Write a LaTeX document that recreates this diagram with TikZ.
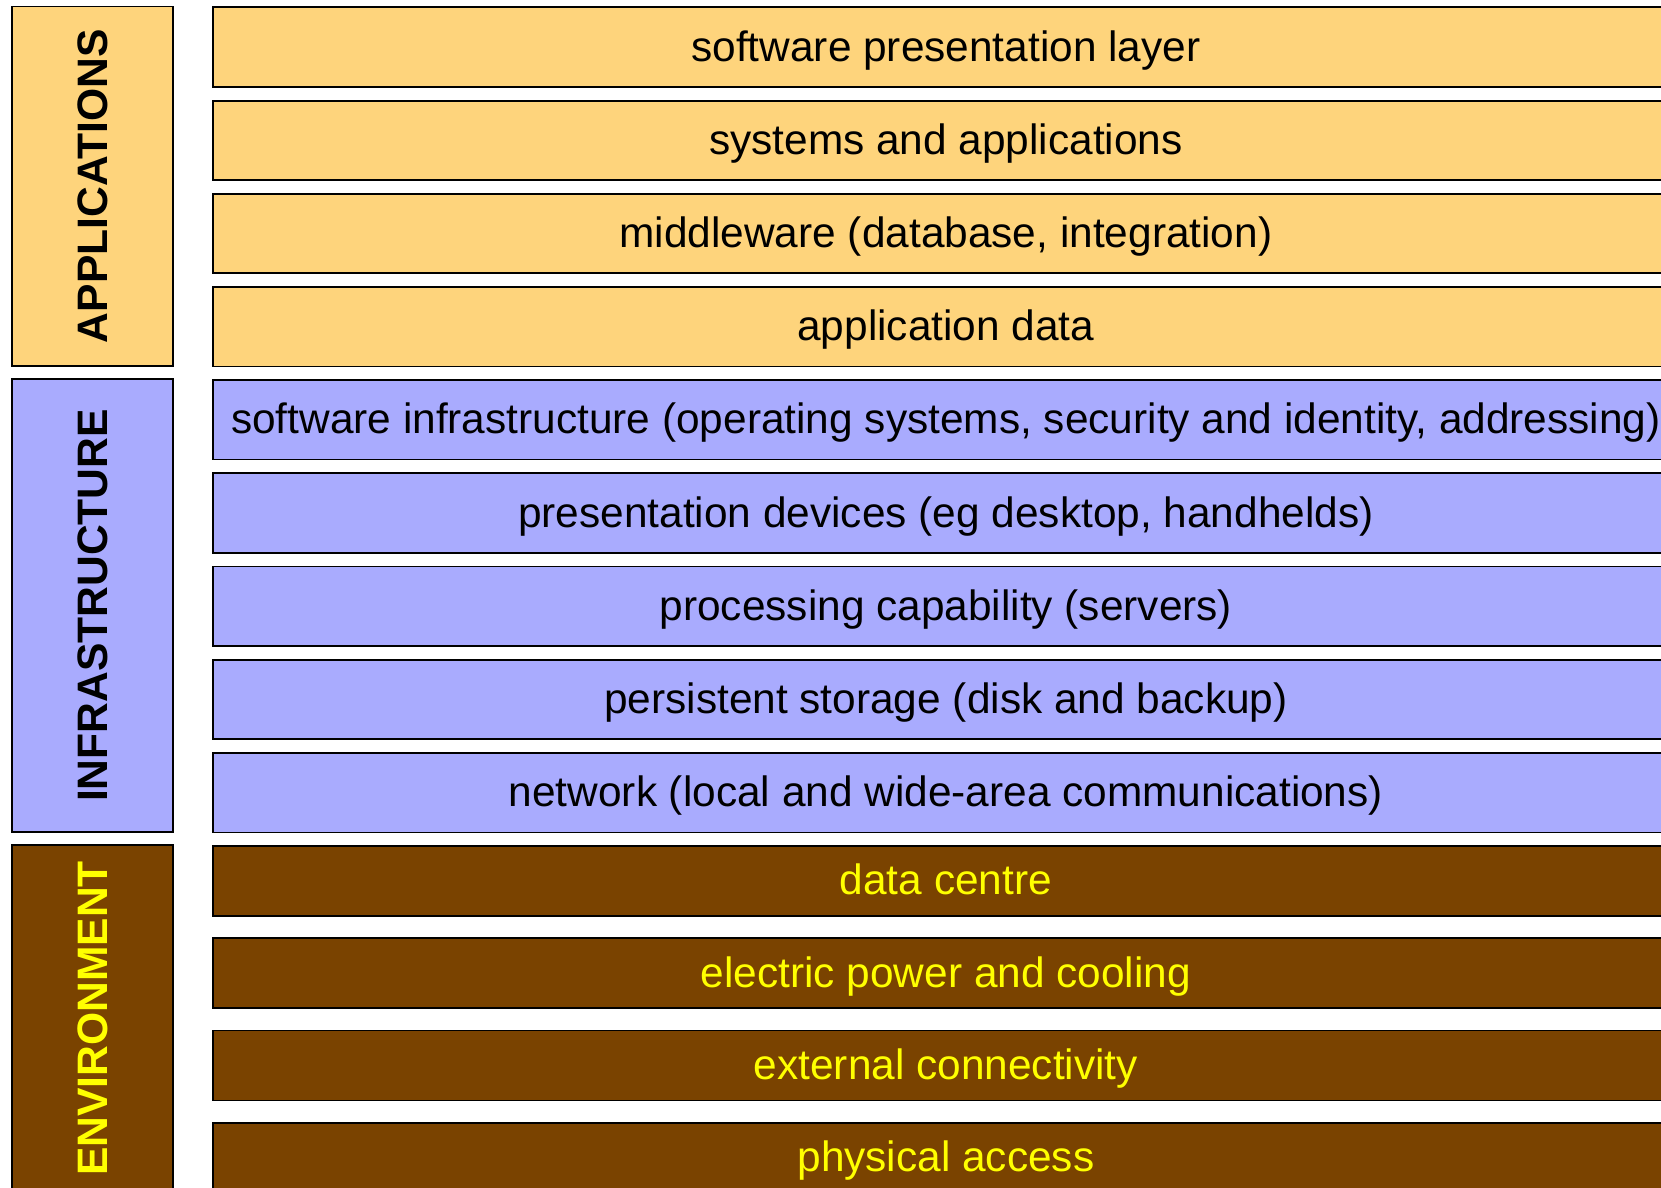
\documentclass[tikz,border=0pt]{standalone}
\usepackage{fontspec}
\setmainfont{Liberation Sans}
\definecolor{appfill}{RGB}{254,212,124}
\definecolor{infrafill}{RGB}{169,171,254}
\definecolor{envfill}{RGB}{122,67,0}
\definecolor{envtext}{RGB}{255,255,0}
\begin{document}
\begin{tikzpicture}[x=1pt,y=-1pt,
  layer/.style={draw=black, line width=1.8pt, anchor=north west, inner sep=0pt,
    minimum width=1466pt, text height=30pt, text depth=2pt,
    font=\fontsize{42.4}{50}\selectfont},
  applayer/.style={layer, fill=appfill, minimum height=79.5pt},
  infralayer/.style={layer, fill=infrafill, minimum height=79.5pt},
  envlayer/.style={layer, fill=envfill, text=envtext, minimum height=70pt},
  groupbox/.style={line width=1.8pt},
  grouplabel/.style={rotate=90, font=\fontsize{42.6}{50}\selectfont\bfseries}]
\useasboundingbox (0,0) rectangle (1661,1187);

% group columns on the left
\draw[groupbox, fill=appfill] (12,6.4) rectangle (173,366);
\draw[groupbox, fill=infrafill] (12,379) rectangle (173,832);
\draw[groupbox, fill=envfill] (12,845) rectangle (173,1192);
\node[grouplabel] (gapp) at (92.5,186) {APPLICATIONS};
\node[grouplabel] (ginfra) at (92.5,605.5) {INFRASTRUCTURE};
\node[grouplabel, text=envtext] (genv) at (92.5,1018.5) {ENVIRONMENT};

% application layers
\node[applayer] (a1) at (212,6.4) {software presentation layer};
\node[applayer] (a2) at (212,99.8) {systems and applications};
\node[applayer] (a3) at (212,192.8) {middleware (database, integration)};
\node[applayer] (a4) at (212,286) {application data};

% infrastructure layers
\node[infralayer] (i1) at (212,379) {software infrastructure (operating systems, security and identity, addressing)};
\node[infralayer] (i2) at (212,472.4) {presentation devices (eg desktop, handhelds)};
\node[infralayer] (i3) at (212,565.6) {processing capability (servers)};
\node[infralayer] (i4) at (212,658.8) {persistent storage (disk and backup)};
\node[infralayer] (i5) at (212,752) {network (local and wide-area communications)};

% environment layers
\node[envlayer] (e1) at (212,845) {data centre};
\node[envlayer] (e2) at (212,937.4) {electric power and cooling};
\node[envlayer] (e3) at (212,1029.6) {external connectivity};
\node[envlayer] (e4) at (212,1121.8) {physical access};
\end{tikzpicture}
\end{document}
